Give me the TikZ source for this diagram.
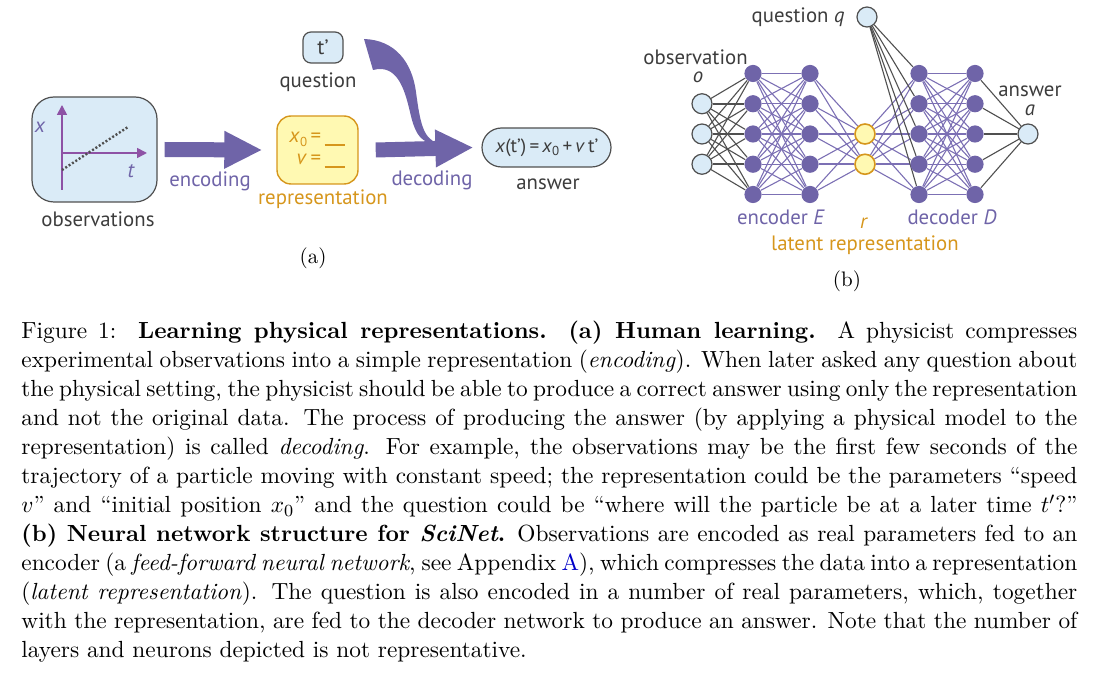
\documentclass[tikz,border=0pt]{standalone}
\usepackage{graphicx}
\usepackage{fontspec}
\newfontfamily\dsans{PT Sans}
\usetikzlibrary{arrows.meta,backgrounds}
\definecolor{npurple}{RGB}{111,100,168}
\definecolor{epurple}{RGB}{124,112,180}
\definecolor{lblue}{RGB}{218,235,247}
\definecolor{dgray}{RGB}{80,80,80}
\definecolor{tgray}{RGB}{60,60,60}
\definecolor{yfill}{RGB}{255,249,178}
\definecolor{gold}{RGB}{214,150,28}
\definecolor{axispurple}{RGB}{142,82,165}
\definecolor{linkblue}{RGB}{0,0,200}
\tikzset{
  lab/.style={font=\dsans\fontsize{10.4}{12}\selectfont, text=tgray, inner sep=0pt},
  purptxt/.style={lab, text=npurple},
  goldtxt/.style={lab, text=gold},
  bluebox/.style={draw=dgray, line width=0.6pt, fill=lblue, rounded corners=#1, inner sep=0pt},
  blockarrow/.style={draw=npurple, line width=7.5pt, -{Triangle[length=19pt,width=17.5pt]}},
  inneuron/.style={circle, draw=dgray, line width=0.6pt, fill=lblue, minimum size=10pt, inner sep=0pt},
  hidneuron/.style={circle, fill=npurple, minimum size=8.6pt, inner sep=0pt},
  latneuron/.style={circle, draw=gold, line width=0.8pt, fill=yfill, minimum size=10pt, inner sep=0pt},
  pedge/.style={draw=epurple, line width=0.55pt},
  gedge/.style={draw=dgray, line width=0.55pt},
}
\newcommand{\capline}[1]{\makebox[\linewidth][s]{#1}\\}
\newcommand{\lowsub}[1]{\raisebox{-0.35ex}{\fontsize{6.5}{7}\selectfont #1}}
\begin{document}
\begin{tikzpicture}[x=0.5pt,y=-0.5pt]
\useasboundingbox (0,0) rectangle (1110,679);
% ---------------- (a) ----------------
\node[bluebox=11pt, minimum width=62.5pt, minimum height=52.5pt] (obs) at (94.5,149.5) {};
\draw[axispurple, line width=0.8pt, -{Triangle[length=5pt,width=5pt]}] (62,190) -- (62,105);
\draw[axispurple, line width=0.8pt, -{Triangle[length=5pt,width=5pt]}] (62,153) -- (147,153);
\draw[dgray, line width=1.2pt, dash pattern=on 1pt off 1pt] (62,170) -- (128,127);
\node[purptxt, font=\dsans\itshape\fontsize{10.4}{12}\selectfont] (xax) at (40,127) {x};
\node[purptxt, font=\dsans\itshape\fontsize{10.4}{12}\selectfont] (tax) at (131,171) {t};
\node[lab] (obsl) at (98,219) {observations};

\node[draw=gold, line width=0.7pt, fill=yfill, rounded corners=7pt, minimum width=40.5pt, minimum height=34pt, inner sep=0pt] (rep) at (317.5,150) {};
\node[goldtxt, anchor=base east] (x0) at (345,143) {\textit{x}\lowsub{0}\,=\,\rule[-1.5pt]{10pt}{1pt}};
\node[goldtxt, anchor=base east] (v0) at (345,165) {\textit{v}\,=\,\rule[-1.5pt]{10pt}{1pt}};
\node[goldtxt] (repl) at (323,199) {representation};

\node[bluebox=4pt, minimum width=20pt, minimum height=15.5pt] (q) at (323,47.5) {};
\node[lab] (qt) at (323,47.5) {t’};
\node[lab] (ql) at (318,82) {question};

\node[bluebox=9.75pt, minimum width=64.5pt, minimum height=19.5pt] (ans) at (546.5,147.5) {};
\node[lab, font=\dsans\fontsize{9.6}{11}\selectfont] (anst) at (547,147.5) {\textit{x}(t’)\,=\,\textit{x}\lowsub{0}\,+\,\textit{v}\,t’};
\node[lab] (ansl) at (548,184) {answer};

\draw[blockarrow] ([xshift=3.5pt]obs.east) -- ([xshift=-7pt]rep.west);
\draw[blockarrow] ([xshift=8.5pt]rep.east) -- ([xshift=-4pt]ans.west);
\fill[npurple] (364,39) .. controls (395,40) and (412,62) .. (416,92) .. controls (420,122) and (423,138) .. (437,143) -- (431,143) .. controls (419,141) and (414,130) .. (410,112) .. controls (404,86) and (396,64) .. (373,70) -- cycle;

\node[purptxt] (encl) at (210,181) {encoding};
\node[purptxt] (decl) at (432,180) {decoding};
\node[inner sep=0pt, font=\fontsize{10.5}{12}\selectfont] (suba) at (313,258) {(a)};

% ---------------- (b) ----------------
\foreach \k/\yy in {1/103.75,2/134,3/164.25}
  \node[inneuron] (i\k) at (702,\yy) {};
\foreach \k/\yy in {1/73.5,2/103.75,3/134,4/164.25,5/194.5}{
  \node[hidneuron] (e\k) at (753,\yy) {};
  \node[hidneuron] (f\k) at (810,\yy) {};
  \node[hidneuron] (d\k) at (919,\yy) {};
  \node[hidneuron] (g\k) at (975,\yy) {};
}
\node[latneuron] (r1) at (865,134) {};
\node[latneuron] (r2) at (865,164.25) {};
\node[inneuron] (qn) at (867,17) {};
\node[inneuron] (an) at (1028,134) {};

\begin{scope}[on background layer]
\foreach \a in {1,2,3}
  \foreach \b in {1,...,5}
    \draw[gedge] (i\a) -- (e\b);
\draw[gedge, line width=1.2pt] (i1) -- (e2);
\draw[gedge, line width=1.2pt] (i2) -- (e3);
\draw[gedge, line width=1.2pt] (i3) -- (e4);
\foreach \a in {1,...,5}
  \foreach \b in {1,...,5}{
    \draw[pedge] (e\a) -- (f\b);
    \draw[pedge] (d\a) -- (g\b);
  }
\foreach \a in {1,...,5}
  \foreach \b in {1,2}{
    \draw[pedge] (f\a) -- (r\b);
    \draw[pedge] (r\b) -- (d\a);
  }
\draw[pedge, line width=1.2pt] (f3) -- (r1);
\draw[pedge, line width=1.2pt] (f4) -- (r2);
\draw[pedge, line width=1.2pt] (r1) -- (d3);
\draw[pedge, line width=1.2pt] (r2) -- (d4);
\foreach \b in {1,...,5}{
  \draw[gedge] (qn) -- (d\b);
  \draw[gedge] (g\b) -- (an);
}
\draw[gedge, line width=1.2pt] (g3) -- (an);
\end{scope}

\node[lab, anchor=east] (qlab) at (845,17) {question \textit{q}};
\node[lab] (olab) at (695.5,57) {observation};
\node[lab] (olab2) at (698,77) {\textit{o}};
\node[purptxt] (elab) at (781,217) {encoder \textit{E}};
\node[goldtxt] (rlab) at (864,223) {\textit{r}};
\node[goldtxt] (llab) at (865,245) {latent representation};
\node[purptxt] (dlab) at (952,217) {decoder \textit{D}};
\node[lab] (alab) at (1030,91) {answer};
\node[lab] (alab2) at (1030,110) {\textit{a}};
\node[inner sep=0pt, font=\fontsize{10.5}{12}\selectfont] (subb) at (847,281) {(b)};

% ---------------- caption ----------------
\node[anchor=north west, inner sep=0pt] (cap) at (21,321) {\scalebox{1.066}{\parbox[t]{495.3pt}{\fontsize{10.95}{13.6}\selectfont
\capline{Figure 1:\ \ \textbf{Learning physical representations.}\ \ \textbf{(a) Human learning.}\ \ A physicist compresses}
\capline{experimental observations into a simple representation (\textit{encoding}). When later asked any question about}
\capline{the physical setting, the physicist should be able to produce a correct answer using only the representation}
\capline{and not the original data. The process of producing the answer (by applying a physical model to the}
\capline{representation) is called \textit{decoding}. For example, the observations may be the first few seconds of the}
\capline{trajectory of a particle moving with constant speed; the representation could be the parameters “speed}
\capline{$v$” and “initial position $x_0$” and the question could be “where will the particle be at a later time $t'$?”}
\capline{\textbf{(b) Neural network structure for \textit{SciNet}.} Observations are encoded as real parameters fed to an}
\capline{encoder (a \textit{feed-forward neural network}, see Appendix \textcolor{linkblue}{A}), which compresses the data into a representation}
\capline{(\textit{latent representation}). The question is also encoded in a number of real parameters, which, together}
\capline{with the representation, are fed to the decoder network to produce an answer. Note that the number of}
layers and neurons depicted is not representative.}}};
\end{tikzpicture}
\end{document}
